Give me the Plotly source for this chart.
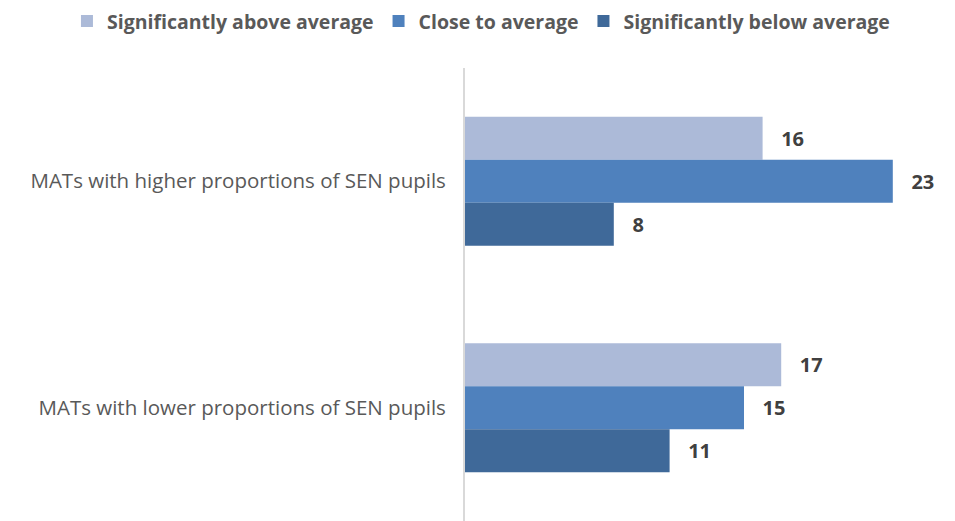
import plotly.graph_objects as go

categories = ["MATs with higher proportions of SEN pupils", "MATs with lower proportions of SEN pupils"]
series_names = ["Significantly above average", "Close to average", "Significantly below average"]
above_avg = [16, 17]
close_avg = [23, 15]
below_avg = [8, 11]
colors = ["#ACBAD8", "#4F81BD", "#3F6999"]

fig = go.Figure()
for name, vals, col in zip(series_names, [above_avg, close_avg, below_avg], colors):
    fig.add_trace(go.Bar(
        y=categories, x=vals, name=name, orientation="h",
        marker=dict(color=col, line=dict(width=0)),
        text=vals, texttemplate="   %{x}", textposition="outside",
        textfont=dict(family="Open Sans", size=20, color="#404040", weight="bold"),
        cliponaxis=False,
    ))

# page is shown with an 8px body margin, so offsets are compensated here
fig.update_layout(
    width=955, height=521,
    barmode="group", bargap=0.43, bargroupgap=0,
    plot_bgcolor="white", paper_bgcolor="white",
    margin=dict(l=457, r=33, t=60, b=8, autoexpand=False),
    font=dict(family="Open Sans", color="#595959"),
    legend=dict(orientation="h", x=-0.856, xanchor="left",
                y=1.146, yanchor="top",
                font=dict(size=19.5, weight="bold", color="#595959"),
                traceorder="normal", itemwidth=30),
    xaxis=dict(range=[0, 25], showticklabels=False, showgrid=False, zeroline=False),
    yaxis=dict(autorange="reversed", showline=True, linecolor="#D9D9D9", linewidth=2,
               automargin=False, ticks="", ticklabelstandoff=13,
               tickfont=dict(size=20.5, color="#595959")),
)

fig.write_html("out.html")
